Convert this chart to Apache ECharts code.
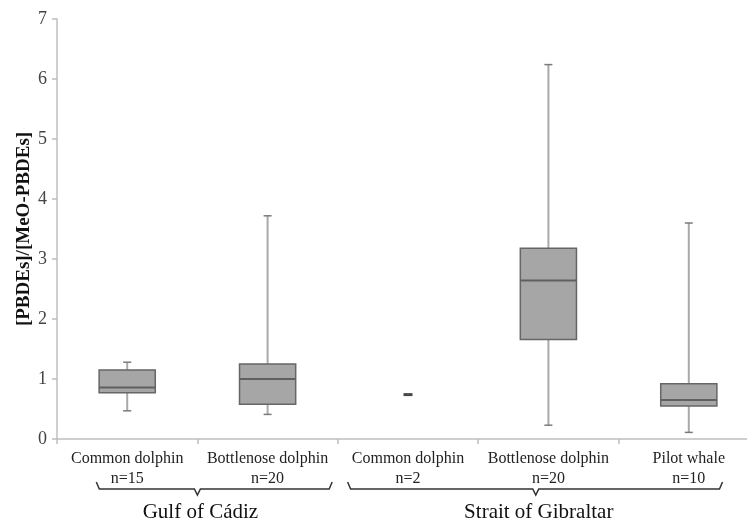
<!DOCTYPE html>
<html>
<head>
<meta charset="utf-8">
<script src="https://cdn.jsdelivr.net/npm/echarts@6/dist/echarts.min.js"></script>
<style>
  html, body { margin: 0; padding: 0; background: #fff; overflow: hidden; width: 747px; height: 520px; }
  /* the plot area runs slightly past the right edge of the page */
  #chart { width: 759px; height: 520px; }
</style>
</head>
<body>
<div id="chart"></div>
<script>
// Species / sample size per area
const categories = [
  'Common dolphin\nn=15',
  'Bottlenose dolphin\nn=20',
  'Common dolphin\nn=2',
  'Bottlenose dolphin\nn=20',
  'Pilot whale\nn=10'
];
// Box-plot statistics of the [PBDEs]/[MeO-PBDEs] ratio (null = too few samples for a box)
const whiskerLow  = [0.47, 0.41, null, 0.23, 0.11];
const quartile1   = [0.77, 0.58, null, 1.66, 0.55];
const medians     = [0.86, 1.00, null, 2.64, 0.65];
const quartile3   = [1.15, 1.25, null, 3.18, 0.92];
const whiskerHigh = [1.28, 3.72, null, 6.24, 3.60];
// Groups with only a single summary value: [category index, value]
const singleValues = [[2, 0.74]];
// Sampling areas and the categories each one covers
const groups = ['Gulf of Cádiz', 'Strait of Gibraltar'];
const groupRanges = [[0, 1], [2, 4]];
// Y axis scale
const yMin = 0, yMax = 7, yStep = 1;

const SERIF = '"Liberation Serif", "DejaVu Serif", serif';

const boxData = [];
categories.forEach((c, i) => {
  if (medians[i] !== null) {
    boxData.push([i, whiskerLow[i], quartile1[i], medians[i], quartile3[i], whiskerHigh[i]]);
  }
});

function renderBox(params, api) {
  const x = api.value(0);
  const pLow = api.coord([x, api.value(1)]);
  const pQ1 = api.coord([x, api.value(2)]);
  const pMed = api.coord([x, api.value(3)]);
  const pQ3 = api.coord([x, api.value(4)]);
  const pHigh = api.coord([x, api.value(5)]);
  const bandW = api.size([1, 0])[0];
  const boxW = bandW * 0.4;
  const capW = 8;
  const cx = pMed[0];
  const whiskerStyle = { stroke: '#a9a9a9', lineWidth: 2 };
  const capStyle = { stroke: '#7a7a7a', lineWidth: 1.5 };
  return {
    type: 'group',
    children: [
      { type: 'line', shape: { x1: cx, y1: pHigh[1], x2: cx, y2: pQ3[1] }, style: whiskerStyle },
      { type: 'line', shape: { x1: cx, y1: pQ1[1], x2: cx, y2: pLow[1] }, style: whiskerStyle },
      { type: 'line', shape: { x1: cx - capW / 2, y1: pHigh[1], x2: cx + capW / 2, y2: pHigh[1] }, style: capStyle },
      { type: 'line', shape: { x1: cx - capW / 2, y1: pLow[1], x2: cx + capW / 2, y2: pLow[1] }, style: capStyle },
      { type: 'rect', shape: { x: cx - boxW / 2, y: pQ3[1], width: boxW, height: pQ1[1] - pQ3[1] },
        style: { fill: '#a6a6a6', stroke: '#666666', lineWidth: 1.5 } },
      { type: 'line', shape: { x1: cx - boxW / 2, y1: pMed[1], x2: cx + boxW / 2, y2: pMed[1] },
        style: { stroke: '#606060', lineWidth: 2 } }
    ]
  };
}

const chart = echarts.init(document.getElementById('chart'), null, { renderer: 'canvas' });

chart.setOption({
  animation: false,
  backgroundColor: '#ffffff',
  grid: { left: 57, right: 0, top: 19, bottom: 81, containLabel: false },
  xAxis: {
    type: 'category',
    data: categories,
    boundaryGap: true,
    axisLine: { show: true, lineStyle: { color: '#bfbfbf', width: 1.5 } },
    axisTick: { show: true, length: 5, lineStyle: { color: '#bfbfbf', width: 1.5 } },
    axisLabel: { fontFamily: SERIF, fontSize: 16, lineHeight: 20, color: '#222', margin: 10, interval: 0 },
    splitLine: { show: false }
  },
  yAxis: {
    type: 'value',
    min: yMin, max: yMax, interval: yStep,
    name: '[PBDEs]/[MeO-PBDEs]',
    nameLocation: 'middle',
    nameGap: 23,
    nameRotate: 90,
    nameMoveOverlap: false,
    nameTextStyle: { fontFamily: SERIF, fontSize: 19, fontWeight: 'bold', color: '#111' },
    axisLine: { show: true, lineStyle: { color: '#bfbfbf', width: 1.5 } },
    axisTick: { show: true, length: 5, lineStyle: { color: '#bfbfbf', width: 1.5 } },
    axisLabel: { fontFamily: SERIF, fontSize: 18, color: '#444', margin: 10 },
    splitLine: { show: false }
  },
  series: [
    {
      type: 'custom',
      name: 'ratio',
      renderItem: renderBox,
      encode: { x: 0, y: [1, 2, 3, 4, 5] },
      data: boxData,
      z: 3
    },
    {
      type: 'scatter',
      name: 'single',
      data: singleValues,
      symbol: 'rect',
      symbolSize: [9, 3],
      itemStyle: { color: '#1a1a1a' },
      z: 4
    }
  ]
});

// Area braces and labels under the category labels
const centers = categories.map((c, i) => chart.convertToPixel({ xAxisIndex: 0 }, i));
const band = centers[1] - centers[0];
const braceY = 489, hookY = 482, tipY = 495;
// Horizontal extent of each brace, relative to the first / last category centre (in bands)
const braceInset = [[-0.22, 0.46], [-0.43, 0.24]];
const graphics = [];
groupRanges.forEach((r, g) => {
  const left = centers[r[0]] + braceInset[g][0] * band;
  const right = centers[r[1]] + braceInset[g][1] * band;
  const mid = g === 0 ? (centers[r[0]] + centers[r[1]]) / 2 : centers[r[0] + 1] - 0.09 * band;
  graphics.push({
    type: 'polyline',
    shape: { points: [[left, hookY], [left + 3, braceY], [mid - 3, braceY], [mid, tipY], [mid + 3, braceY], [right - 3, braceY], [right, hookY]] },
    style: { stroke: '#333', lineWidth: 1.5, fill: null },
    silent: true
  });
  graphics.push({
    type: 'text',
    x: mid + 3, y: 512,
    style: { text: groups[g], font: '21px ' + SERIF, fill: '#111', align: 'center', verticalAlign: 'middle' },
    silent: true
  });
});
chart.setOption({ graphic: graphics });
</script>
</body>
</html>
